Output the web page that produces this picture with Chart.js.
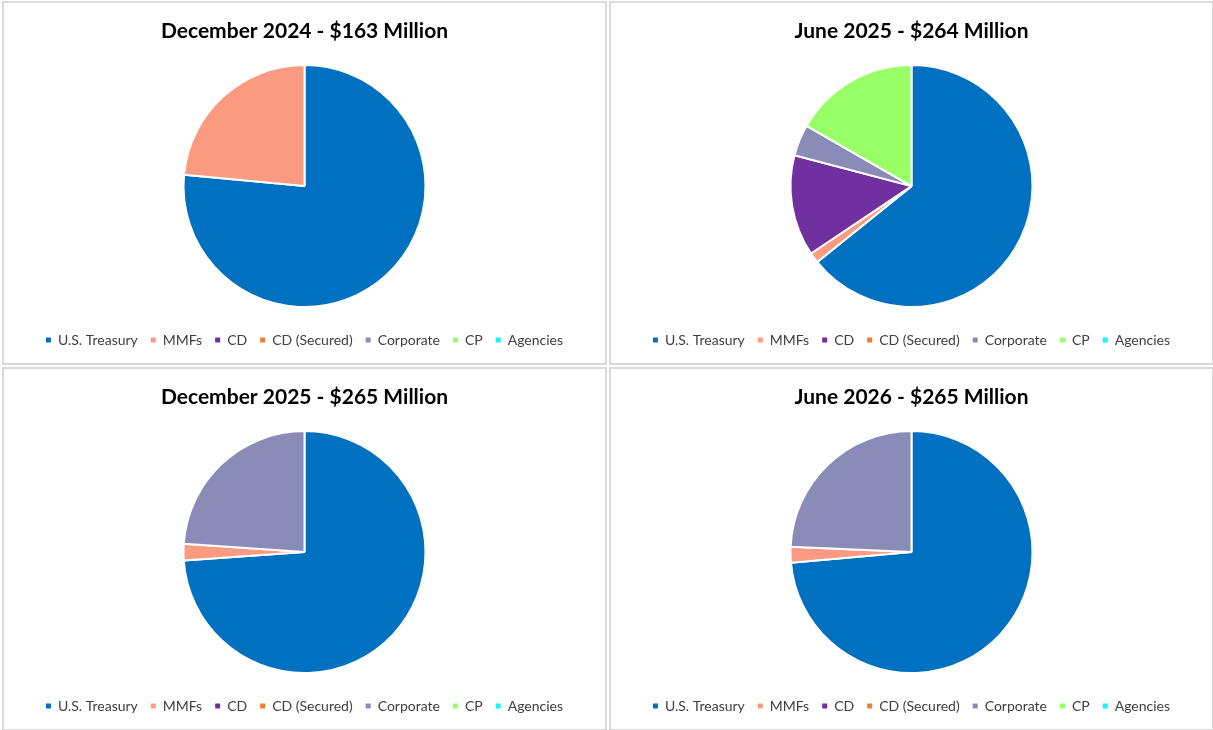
<!DOCTYPE html>
<html>
<head>
<meta charset="utf-8">
<script src="https://cdn.jsdelivr.net/npm/chart.js@4.4.1/dist/chart.umd.min.js"></script>
<style>
  body { margin: 0; background: #fff; width: 1213px; height: 730px; overflow: hidden; position: relative; }
  .panel { position: absolute; width: 601px; height: 360px; border: 2px solid #d9d9d9; background: #fff; overflow: hidden; }
  .panel canvas { display: block; }
</style>
</head>
<body>
<div class="panel" style="left:2px;top:1px"><canvas id="c1" width="601" height="360"></canvas></div>
<div class="panel" style="left:609px;top:1px"><canvas id="c2" width="601" height="360"></canvas></div>
<div class="panel" style="left:2px;top:367px"><canvas id="c3" width="601" height="360"></canvas></div>
<div class="panel" style="left:609px;top:367px"><canvas id="c4" width="601" height="360"></canvas></div>
<script>
// categorii (ordinea din legendă) și culorile lor
const categories = ['U.S. Treasury', 'MMFs', 'CD', 'CD (Secured)', 'Corporate', 'CP', 'Agencies'];
const colors = ['#0070C0', '#FA9A80', '#7030A0', '#ED7D31', '#8B8BB7', '#99FF66', '#19F5F5'];

// titlurile celor 4 grafice
const titles = [
  'December 2024 - $163 Million',
  'June 2025 - $264 Million',
  'December 2025 - $265 Million',
  'June 2026 - $265 Million'
];

// ponderea fiecărei categorii în portofoliu (%), citită de pe grafic
const dec2024 = [76.5, 23.5, 0, 0, 0, 0, 0];
const jun2025 = [64.2, 1.4, 13.5, 0, 4.2, 16.7, 0];
const dec2025 = [73.9, 2.2, 0, 0, 23.9, 0, 0];
const jun2026 = [73.6, 2.1, 0, 0, 24.3, 0, 0];

const series = [dec2024, jun2025, dec2025, jun2026];

function makePie(id, title, values) {
  new Chart(document.getElementById(id), {
    type: 'pie',
    data: {
      labels: categories,
      datasets: [{
        data: values,
        backgroundColor: colors,
        borderColor: '#ffffff',
        borderWidth: 2,
        radius: 121
      }]
    },
    options: {
      responsive: false,
      animation: false,
      layout: { padding: { top: 0, bottom: 6, left: 0, right: 0 } },
      plugins: {
        tooltip: { enabled: false },
        title: {
          display: true,
          text: title,
          color: '#000000',
          font: { family: 'Lato', size: 21, weight: 'bold' },
          padding: { top: 16, bottom: 8 }
        },
        legend: {
          position: 'bottom',
          labels: {
            boxWidth: 5,
            boxHeight: 5,
            padding: 13,
            color: '#404040',
            font: { family: 'Lato', size: 14 },
            // fără contur alb la pătrățelele din legendă
            generateLabels: chart =>
              Chart.overrides.doughnut.plugins.legend.labels.generateLabels(chart)
                .map(l => ({ ...l, lineWidth: 0, strokeStyle: l.fillStyle }))
          }
        }
      }
    }
  });
}

['c1', 'c2', 'c3', 'c4'].forEach((id, i) => makePie(id, titles[i], series[i]));
</script>
</body>
</html>
